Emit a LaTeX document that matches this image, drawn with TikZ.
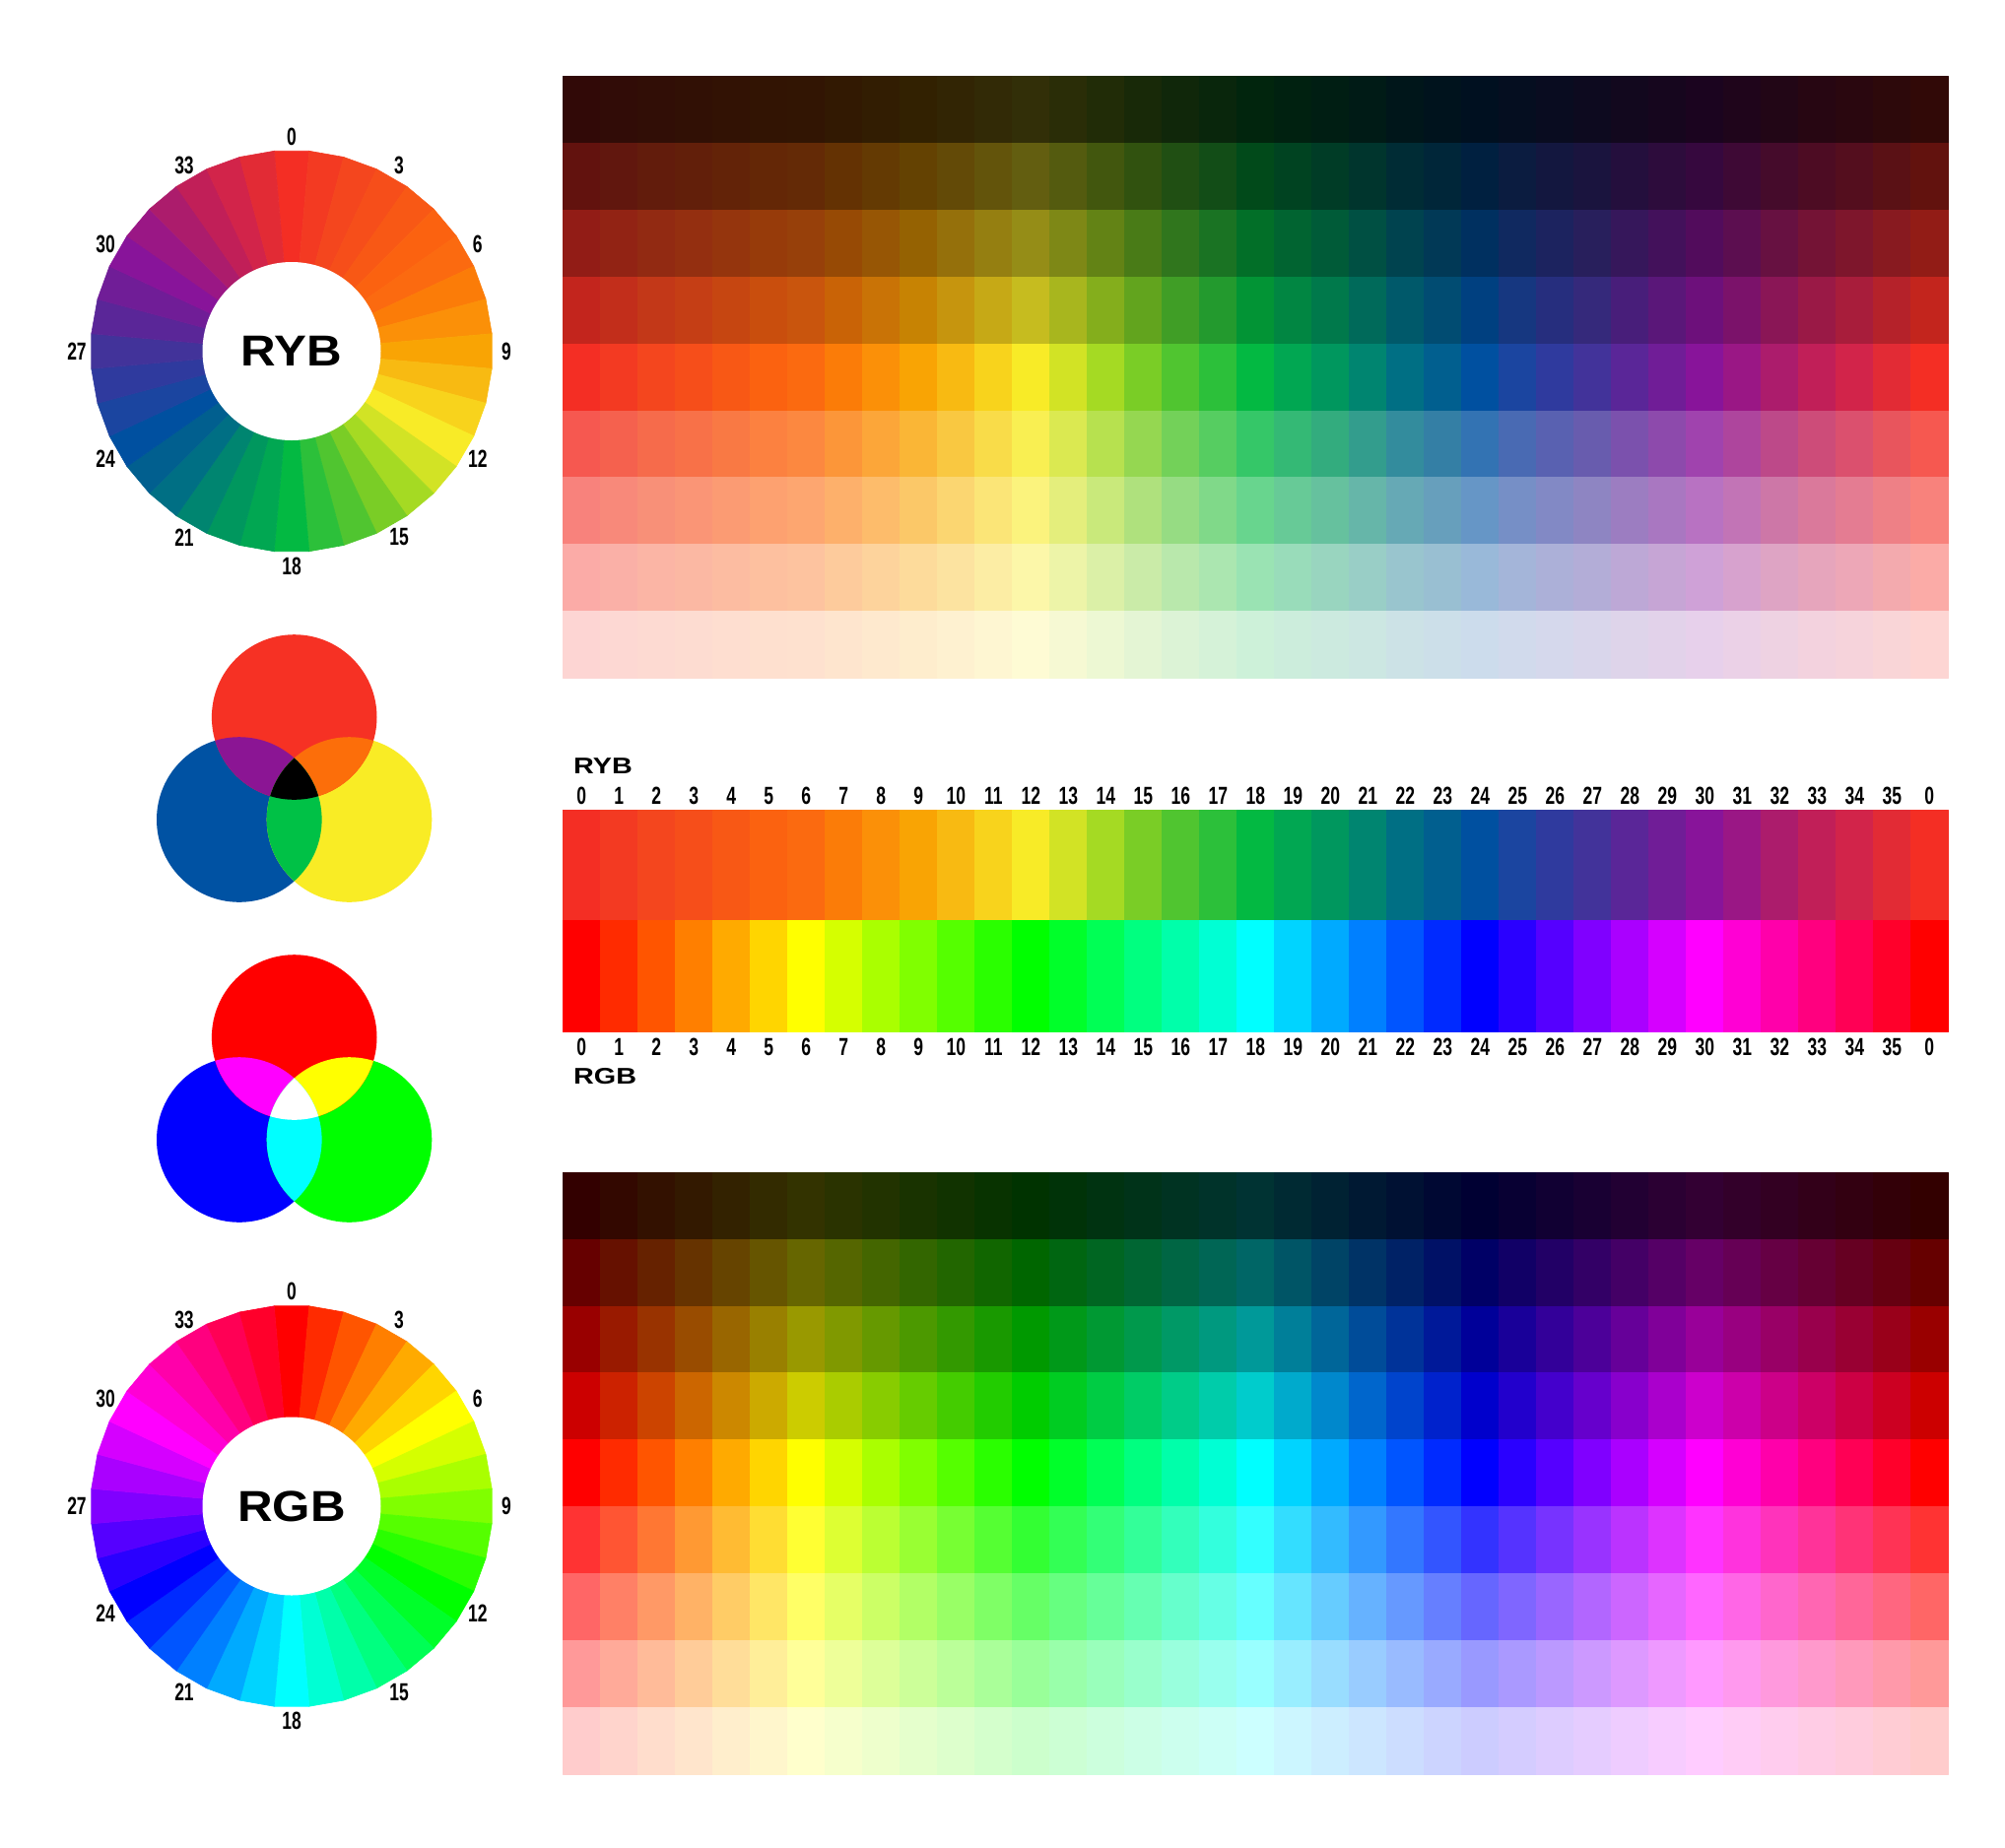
\documentclass[tikz,border=0pt]{standalone}
\usepackage{fontspec}
\newfontfamily\numfont[FakeStretch=0.7]{Liberation Sans}
\newfontfamily\capfont[FakeStretch=1.12]{Liberation Sans}
\newfontfamily\tagfont[FakeStretch=1.25]{Liberation Sans}
\usetikzlibrary{calc}
\definecolorset{HTML}{ryb}{}{%
  0,F42E24;1,F33A22;2,F4461E;3,F64E1A;4,F85815;5,FB6210;6,FB6A10;7,FB7C08;%
  8,FB9008;9,F9A404;10,F8BA12;11,F8D31C;12,F8EB27;13,D2E325;14,A5DA23;%
  15,7ACD26;16,50C530;17,2CC03A;18,03B942;19,01A752;20,00975E;21,008570;%
  22,006F84;23,015F8F;24,0050A0;25,1B45A0;26,2F3A9E;27,42339A;28,5A2698;%
  29,701D97;30,88149A;31,9A1785;32,AC1C6C;33,C11F58;34,D2244A;35,E22B35}
\definecolor{vennRed}{HTML}{F63124}
\definecolor{vennYellow}{HTML}{F9EC25}
\definecolor{vennBlue}{HTML}{0052A3}
\definecolor{vennPurple}{HTML}{8B1594}
\definecolor{vennOrange}{HTML}{FC6E0A}
\definecolor{vennGreen}{HTML}{00C146}
\definecolor{addRed}{rgb}{1,0,0}
\definecolor{addGreen}{rgb}{0,1,0}
\definecolor{addBlue}{rgb}{0,0,1}
\definecolor{addCyan}{rgb}{0,1,1}
\definecolor{addMagenta}{rgb}{1,0,1}
\definecolor{addYellow}{rgb}{1,1,0}
\definecolor{addWhite}{rgb}{1,1,1}
% hue number -> rgb colour "hue"
\newcommand\sethue[1]{%
  \pgfmathtruncatemacro\hueval{10*(#1)}%
  \definecolor{hueH}{Hsb}{\hueval,1,1}%
  \colorlet{hue}[rgb]{hueH}}

\begin{document}
\begin{tikzpicture}[x=1pt,y=-1pt,
  swatch/.style={line width=0.6pt, line join=round},
  num/.style={font=\numfont\bfseries\fontsize{25}{25}\selectfont, inner sep=0pt},
  tag/.style={font=\tagfont\bfseries\fontsize{23}{23}\selectfont, inner sep=0pt, anchor=west},
  hub/.style={font=\capfont\bfseries\fontsize{44}{44}\selectfont, inner sep=0pt}]
  \useasboundingbox (0,0) rectangle (2035,1875);

  % RYB wheel
  \foreach \k in {0,...,35} {
    \pgfmathsetmacro\aa{10*\k-5}
    \pgfmathsetmacro\ab{10*\k+5}
    \filldraw[swatch, fill=ryb\k, draw=ryb\k] (296,356.5)
      -- ({296+204*sin(\aa)},{356.5-204*cos(\aa)})
      -- ({296+204*sin(\ab)},{356.5-204*cos(\ab)}) -- cycle;
  }
  \fill[white] (296,356.5) circle[radius=90.5pt];
  \node[hub] (rybhub) at (296,356.5) {RYB};
  \foreach \k in {0,3,...,33}
    \node[num] (rybw\k) at ({296+218*sin(10*\k)},{356.5-218*cos(10*\k)}) {\k};

  % RGB wheel
  \foreach \k in {0,...,35} {
    \pgfmathsetmacro\aa{10*\k-5}
    \pgfmathsetmacro\ab{10*\k+5}
    \sethue{\k}
    \filldraw[swatch, fill=hue, draw=hue] (296,1529)
      -- ({296+204*sin(\aa)},{1529-204*cos(\aa)})
      -- ({296+204*sin(\ab)},{1529-204*cos(\ab)}) -- cycle;
  }
  \fill[white] (296,1529) circle[radius=90.5pt];
  \node[hub] (rgbhub) at (296,1529) {RGB};
  \foreach \k in {0,3,...,33}
    \node[num] (rgbw\k) at ({296+218*sin(10*\k)},{1529-218*cos(10*\k)}) {\k};

  % shade tables
  \foreach \k in {0,...,36} {
    \pgfmathtruncatemacro\h{mod(\k,36)}
    \sethue{\h}
    \foreach \r/\p/\m in {0/20/black,1/40/black,2/60/black,3/80/black,4/100/black,
                          5/80/white,6/60/white,7/40/white,8/20/white} {
      \colorlet{cellA}{ryb\h!\p!\m}
      \colorlet{cellB}{hue!\p!\m}
      \filldraw[swatch, fill=cellA, draw=cellA] ({571.3+38*\k},{77.3+67.9*\r}) rectangle +(38,67.9);
      \filldraw[swatch, fill=cellB, draw=cellB] ({571.3+38*\k},{1190+67.9*\r}) rectangle +(38,67.9);
    }
  }

  % hue strips
  \foreach \k in {0,...,36} {
    \pgfmathtruncatemacro\h{mod(\k,36)}
    \sethue{\h}
    \filldraw[swatch, fill=ryb\h, draw=ryb\h] ({571.3+38*\k},822) rectangle +(38,112);
    \filldraw[swatch, fill=hue, draw=hue] ({571.3+38*\k},934) rectangle +(38,113.5);
    \node[num] (rybn\k) at ({590.3+38*\k},808) {\h};
    \node[num] (rgbn\k) at ({590.3+38*\k},1063) {\h};
  }
  \node[tag] (rybtag) at (582,778) {RYB};
  \node[tag] (rgbtag) at (582,1093) {RGB};

  % subtractive mixing
  \coordinate (ryR) at (298.7,728);
  \coordinate (ryB) at (242.8,832);
  \coordinate (ryY) at (354.5,832);
  \fill[vennBlue] (ryB) circle[radius=83.8pt];
  \fill[vennYellow] (ryY) circle[radius=83.8pt];
  \fill[vennRed] (ryR) circle[radius=83.8pt];
  \begin{scope}
    \clip (ryR) circle[radius=83.8pt];
    \fill[vennPurple] (ryB) circle[radius=83.8pt];
    \fill[vennOrange] (ryY) circle[radius=83.8pt];
  \end{scope}
  \begin{scope}
    \clip (ryB) circle[radius=83.8pt];
    \fill[vennGreen] (ryY) circle[radius=83.8pt];
    \clip (ryY) circle[radius=83.8pt];
    \fill[black] (ryR) circle[radius=83.8pt];
  \end{scope}

  % additive mixing
  \coordinate (rgR) at (298.7,1053);
  \coordinate (rgB) at (242.8,1157);
  \coordinate (rgG) at (354.5,1157);
  \fill[addBlue] (rgB) circle[radius=83.8pt];
  \fill[addGreen] (rgG) circle[radius=83.8pt];
  \fill[addRed] (rgR) circle[radius=83.8pt];
  \begin{scope}
    \clip (rgR) circle[radius=83.8pt];
    \fill[addMagenta] (rgB) circle[radius=83.8pt];
    \fill[addYellow] (rgG) circle[radius=83.8pt];
  \end{scope}
  \begin{scope}
    \clip (rgB) circle[radius=83.8pt];
    \fill[addCyan] (rgG) circle[radius=83.8pt];
    \clip (rgG) circle[radius=83.8pt];
    \fill[addWhite] (rgR) circle[radius=83.8pt];
  \end{scope}
\end{tikzpicture}
\end{document}
